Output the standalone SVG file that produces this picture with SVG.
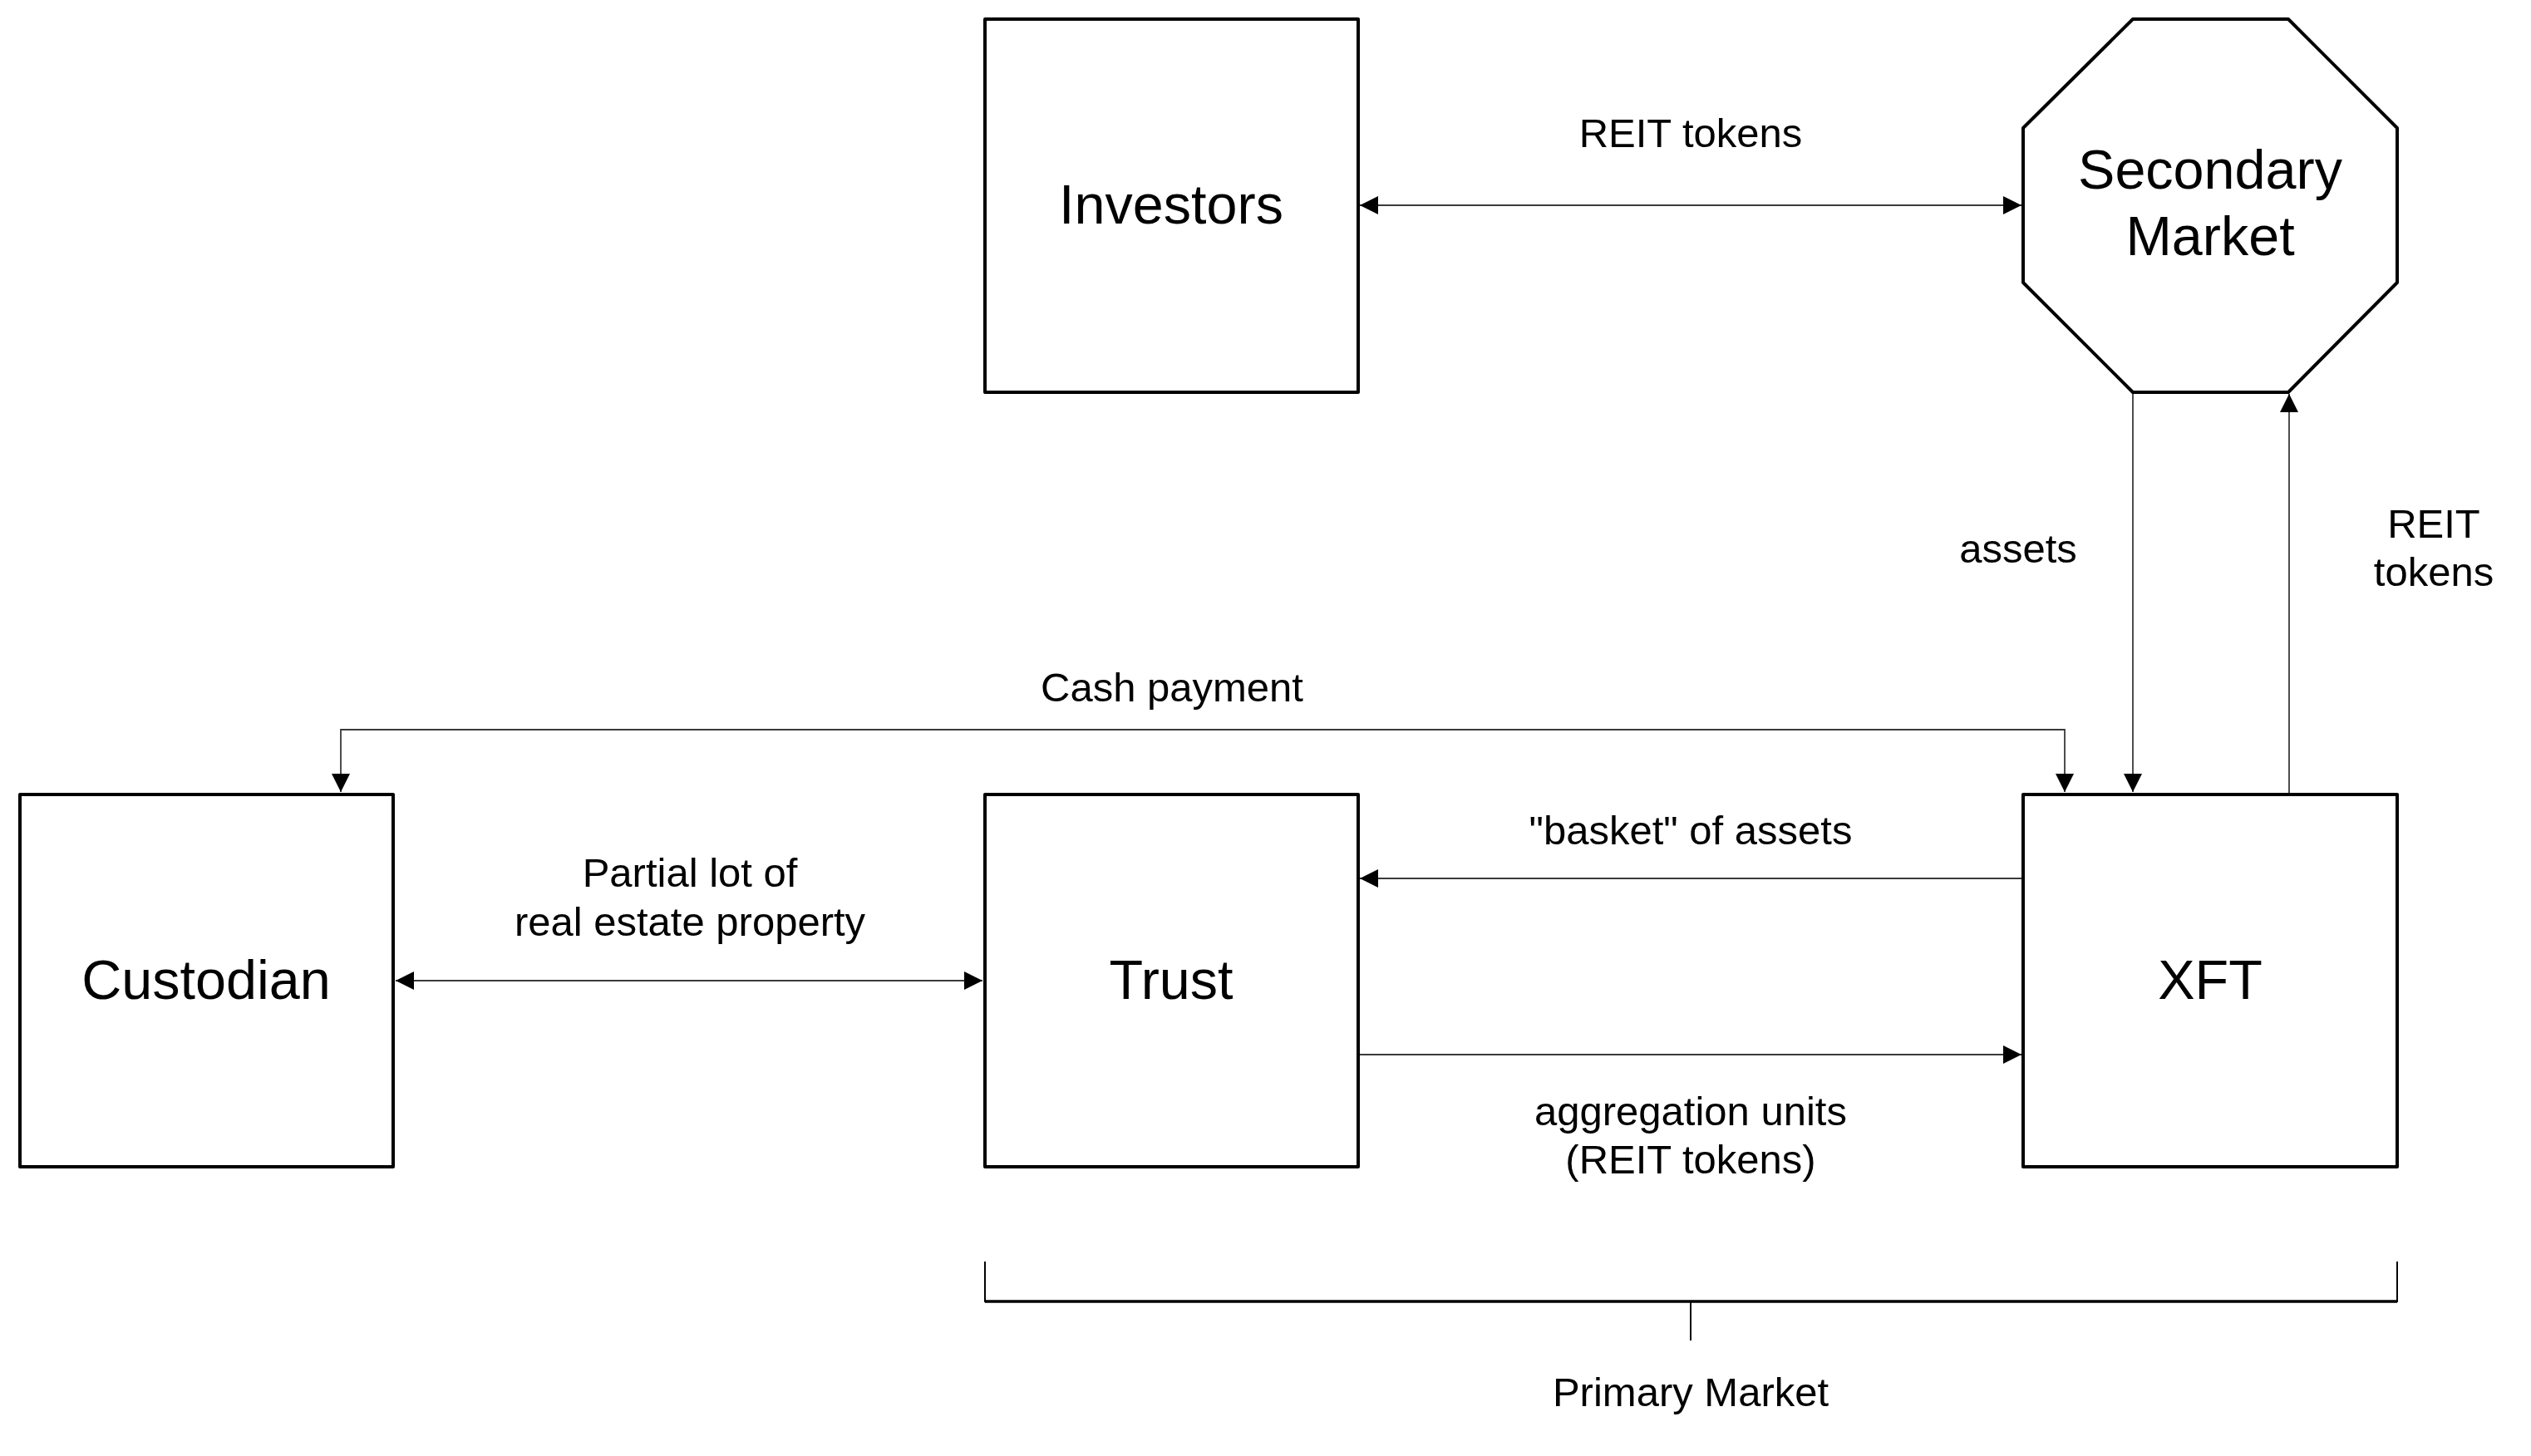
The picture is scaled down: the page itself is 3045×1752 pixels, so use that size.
<svg xmlns="http://www.w3.org/2000/svg" width="3045" height="1752" viewBox="0 0 3045 1752">
<style>
.node{fill:#fff;stroke:#000;stroke-width:4;stroke-linejoin:round}
.nlabel{font-family:"Liberation Sans",Arial,sans-serif;font-size:66.5px;fill:#000;text-anchor:middle}
.elabel{font-family:"Liberation Sans",Arial,sans-serif;font-size:49px;fill:#000;text-anchor:middle}
.conn{fill:none;stroke:#3a3a3a;stroke-width:1.8}
.bracket{fill:none;stroke:#000;stroke-width:2}
</style>
<defs>
<marker id="arr" markerUnits="userSpaceOnUse" markerWidth="24" markerHeight="24" refX="22" refY="11" orient="auto-start-reverse">
<path d="M0,0 L22,11 L0,22 Z" fill="#000"/>
</marker>
</defs>
<rect width="3045" height="1752" fill="#fff"/>

<g id="connectors">
<path class="conn" d="M1636,247 L2432,247" marker-start="url(#arr)" marker-end="url(#arr)"/>
<path class="conn" d="M2566,473 L2566,953" marker-end="url(#arr)"/>
<path class="conn" d="M2754,962 L2754,474" marker-end="url(#arr)"/>
<path class="conn" d="M410,953 L410,878 L2484,878 L2484,953" marker-start="url(#arr)" marker-end="url(#arr)"/>
<path class="conn" d="M476,1180 L1182,1180" marker-start="url(#arr)" marker-end="url(#arr)"/>
<path class="conn" d="M2432,1057 L1636,1057" marker-end="url(#arr)"/>
<path class="conn" d="M1636,1269 L2432,1269" marker-end="url(#arr)"/>
<text class="elabel" x="2034" y="177">REIT tokens</text>
<text class="elabel" x="2428" y="677">assets</text>
<text class="elabel" x="2928" y="647">REIT</text>
<text class="elabel" x="2928" y="705">tokens</text>
<text class="elabel" x="1410" y="844">Cash payment</text>
<text class="elabel" x="830" y="1067">Partial lot of</text>
<text class="elabel" x="830" y="1126">real estate property</text>
<text class="elabel" x="2034" y="1016">"basket" of assets</text>
<text class="elabel" x="2034" y="1354">aggregation units</text>
<text class="elabel" x="2034" y="1412">(REIT tokens)</text>
</g>

<g id="investors">
<rect class="node" x="1185" y="23" width="449" height="449"/>
<text class="nlabel" x="1409" y="269">Investors</text>
</g>

<g id="secondary-market">
<polygon class="node" points="2566,23 2753,23 2884,154 2884,340 2753,472 2566,472 2434,340 2434,154"/>
<text class="nlabel" x="2659" y="227">Secondary</text>
<text class="nlabel" x="2659" y="307">Market</text>
</g>

<g id="custodian">
<rect class="node" x="24" y="956" width="449" height="448"/>
<text class="nlabel" x="248" y="1202">Custodian</text>
</g>

<g id="trust">
<rect class="node" x="1185" y="956" width="449" height="448"/>
<text class="nlabel" x="1409" y="1202">Trust</text>
</g>

<g id="xft">
<rect class="node" x="2434" y="956" width="450" height="448"/>
<text class="nlabel" x="2659" y="1202">XFT</text>
</g>

<g id="primary-market">
<path class="bracket" d="M1185,1518 L1185,1566 L2884,1566 L2884,1518"/>
<path d="M1185,1566 L2884,1566" stroke="#000" stroke-width="3.5" fill="none"/>
<path class="bracket" d="M2034,1566 L2034,1613"/>
<text class="elabel" x="2034" y="1692">Primary Market</text>
</g>
</svg>
